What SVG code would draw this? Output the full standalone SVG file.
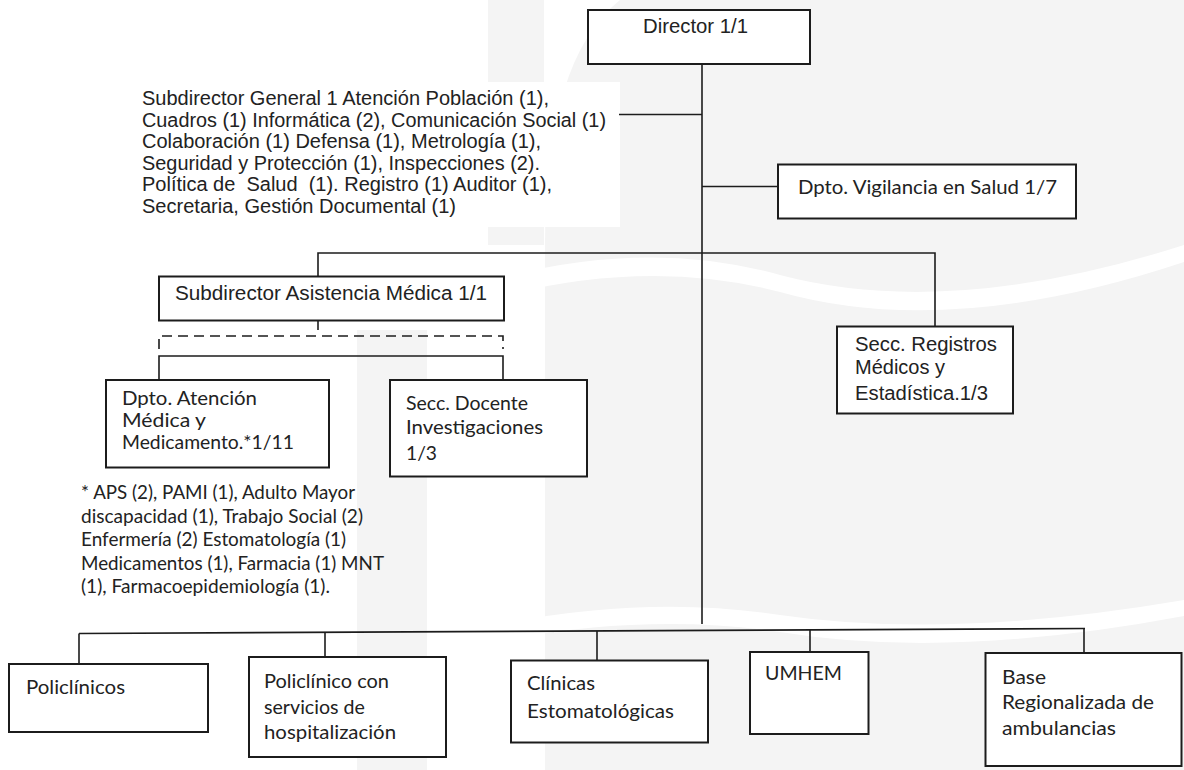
<svg xmlns="http://www.w3.org/2000/svg" width="1184" height="770" viewBox="0 0 1184 770">
  <style>
    .box { fill: #ffffff; stroke: #1c1c1c; stroke-width: 2; }
    .ln { stroke: #1c1c1c; stroke-width: 1.6; fill: none; }
    .dash { stroke: #1c1c1c; stroke-width: 1.6; fill: none; stroke-dasharray: 10 6; }
    .ar { font-family: "Liberation Sans", Arial, sans-serif; font-size: 20px; fill: #222222; }
    .ca { font-family: Lato, "Open Sans", sans-serif; font-size: 20px; fill: #222222; }
    .wm { fill: #f4f4f4; }
  </style>
  <rect x="0" y="0" width="1184" height="770" fill="#ffffff"/>
  <g id="watermark">
    <rect class="wm" x="488" y="0" width="56" height="245"/>
    <rect class="wm" x="357" y="330" width="70" height="440"/>
    <path class="wm" d="M 620 0 L 1184 0 L 1184 770 L 545 770 L 545 245 Q 545 60 620 0 Z"/>
    <path d="M 430 300 Q 620 230 780 275 Q 950 320 1184 245 L 1184 262 Q 950 340 780 292 Q 620 250 430 318 Z" fill="#ffffff"/>
    <path d="M 430 640 Q 620 590 780 615 Q 950 640 1184 600 L 1184 616 Q 950 660 780 632 Q 620 608 430 656 Z" fill="#ffffff"/>
  </g>
  <rect x="130" y="82" width="490" height="145" fill="#ffffff"/>

  <g id="connectors">
    <line class="ln" x1="702" y1="64" x2="702" y2="624"/>
    <line class="ln" x1="619" y1="114.5" x2="702" y2="114.5"/>
    <line class="ln" x1="702" y1="186.5" x2="778" y2="186.5"/>
    <polyline class="ln" points="318,276.5 318,253 935,253 935,326.5"/>
    <line class="ln" x1="318" y1="320.5" x2="318" y2="330"/>
    <polyline class="dash" points="159,349 159,336 503,336 503,349"/>
    <polyline class="ln" points="159,379.5 159,356 503,356 503,380"/>
    <line class="ln" x1="79" y1="633.5" x2="1085" y2="628.5"/>
    <line class="ln" x1="79" y1="633.5" x2="79" y2="664"/>
    <line class="ln" x1="325" y1="632.3" x2="325" y2="657"/>
    <line class="ln" x1="597" y1="631" x2="597" y2="660.5"/>
    <line class="ln" x1="810" y1="629.9" x2="810" y2="652"/>
    <line class="ln" x1="1084" y1="628.5" x2="1084" y2="653"/>
  </g>

  <g id="director">
    <rect class="box" x="588" y="10" width="222" height="54"/>
    <text class="ar" x="643" y="33" textLength="105" lengthAdjust="spacingAndGlyphs">Director 1/1</text>
  </g>

  <g id="subdirector-general">
    <text class="ar" x="142" y="105" textLength="407" lengthAdjust="spacingAndGlyphs">Subdirector General 1 Atención Población (1),</text>
    <text class="ar" x="142" y="126.5" textLength="464" lengthAdjust="spacingAndGlyphs">Cuadros (1) Informática (2), Comunicación Social (1)</text>
    <text class="ar" x="142" y="148" textLength="399" lengthAdjust="spacingAndGlyphs">Colaboración (1) Defensa (1), Metrología (1),</text>
    <text class="ar" x="142" y="169.5" textLength="398" lengthAdjust="spacingAndGlyphs">Seguridad y Protección (1), Inspecciones (2).</text>
    <text class="ar" x="142" y="191" textLength="410" lengthAdjust="spacingAndGlyphs" xml:space="preserve">Política de  Salud  (1). Registro (1) Auditor (1),</text>
    <text class="ar" x="142" y="212.5" textLength="314" lengthAdjust="spacingAndGlyphs">Secretaria, Gestión Documental (1)</text>
  </g>

  <g id="vigilancia">
    <rect class="box" x="778" y="164.5" width="298" height="54"/>
    <text class="ca" x="798" y="194" font-size="19" textLength="259" lengthAdjust="spacingAndGlyphs">Dpto. Vigilancia en Salud 1/7</text>
  </g>

  <g id="subdirector-asistencia">
    <rect class="box" x="159" y="276.5" width="345" height="44"/>
    <text class="ar" x="175" y="300" textLength="312" lengthAdjust="spacingAndGlyphs">Subdirector Asistencia Médica 1/1</text>
  </g>

  <g id="registros">
    <rect class="box" x="837" y="326.5" width="176" height="87"/>
    <text class="ar" x="855" y="351" textLength="142" lengthAdjust="spacingAndGlyphs">Secc. Registros</text>
    <text class="ar" x="855" y="374" textLength="90" lengthAdjust="spacingAndGlyphs">Médicos y</text>
    <text class="ar" x="855" y="400" textLength="133" lengthAdjust="spacingAndGlyphs">Estadística.1/3</text>
  </g>

  <g id="atencion">
    <rect class="box" x="106" y="380" width="223" height="87.5"/>
    <text class="ca" x="122" y="405" font-size="18" textLength="135" lengthAdjust="spacingAndGlyphs">Dpto. Atención</text>
    <text class="ca" x="122" y="427" font-size="18" textLength="84" lengthAdjust="spacingAndGlyphs">Médica y</text>
    <text class="ca" x="122" y="449" font-size="18" textLength="172" lengthAdjust="spacingAndGlyphs">Medicamento.*1/11</text>
  </g>

  <g id="docente">
    <rect class="box" x="390" y="380" width="197" height="96.5"/>
    <text class="ca" x="406" y="410" font-size="19" textLength="122" lengthAdjust="spacingAndGlyphs">Secc. Docente</text>
    <text class="ca" x="406" y="434" font-size="19" textLength="137" lengthAdjust="spacingAndGlyphs">Investigaciones</text>
    <text class="ca" x="406" y="460" font-size="19" textLength="31" lengthAdjust="spacingAndGlyphs">1/3</text>
  </g>

  <g id="nota">
    <text class="ca" x="81" y="499" font-size="16" textLength="274" lengthAdjust="spacingAndGlyphs">* APS (2), PAMI (1), Adulto Mayor</text>
    <text class="ca" x="81" y="522.5" font-size="16" textLength="282" lengthAdjust="spacingAndGlyphs">discapacidad (1), Trabajo Social (2)</text>
    <text class="ca" x="81" y="546" font-size="16" textLength="265" lengthAdjust="spacingAndGlyphs">Enfermería (2) Estomatología (1)</text>
    <text class="ca" x="81" y="569.5" font-size="16" textLength="303" lengthAdjust="spacingAndGlyphs">Medicamentos (1), Farmacia (1) MNT</text>
    <text class="ca" x="81" y="593" font-size="16" textLength="249" lengthAdjust="spacingAndGlyphs">(1), Farmacoepidemiología (1).</text>
  </g>

  <g id="policlinicos">
    <rect class="box" x="9" y="664" width="199" height="68"/>
    <text class="ca" x="26" y="694" textLength="99" lengthAdjust="spacingAndGlyphs">Policlínicos</text>
  </g>

  <g id="policlinico-hosp">
    <rect class="box" x="249" y="657" width="197" height="100"/>
    <text class="ca" x="264" y="688" textLength="125" lengthAdjust="spacingAndGlyphs">Policlínico con</text>
    <text class="ca" x="264" y="713.5" textLength="101" lengthAdjust="spacingAndGlyphs">servicios de</text>
    <text class="ca" x="264" y="739" textLength="132" lengthAdjust="spacingAndGlyphs">hospitalización</text>
  </g>

  <g id="clinicas">
    <rect class="box" x="511" y="660.5" width="197" height="82"/>
    <text class="ca" x="527" y="690" textLength="68" lengthAdjust="spacingAndGlyphs">Clínicas</text>
    <text class="ca" x="527" y="718" textLength="147" lengthAdjust="spacingAndGlyphs">Estomatológicas</text>
  </g>

  <g id="umhem">
    <rect class="box" x="750" y="652" width="118.5" height="82"/>
    <text class="ca" x="765" y="680" textLength="77" lengthAdjust="spacingAndGlyphs">UMHEM</text>
  </g>

  <g id="base">
    <rect class="box" x="985.5" y="653" width="196" height="113"/>
    <text class="ca" x="1002" y="684" textLength="44" lengthAdjust="spacingAndGlyphs">Base</text>
    <text class="ca" x="1002" y="709" textLength="152" lengthAdjust="spacingAndGlyphs">Regionalizada de</text>
    <text class="ca" x="1002" y="735" textLength="114" lengthAdjust="spacingAndGlyphs">ambulancias</text>
  </g>
</svg>
